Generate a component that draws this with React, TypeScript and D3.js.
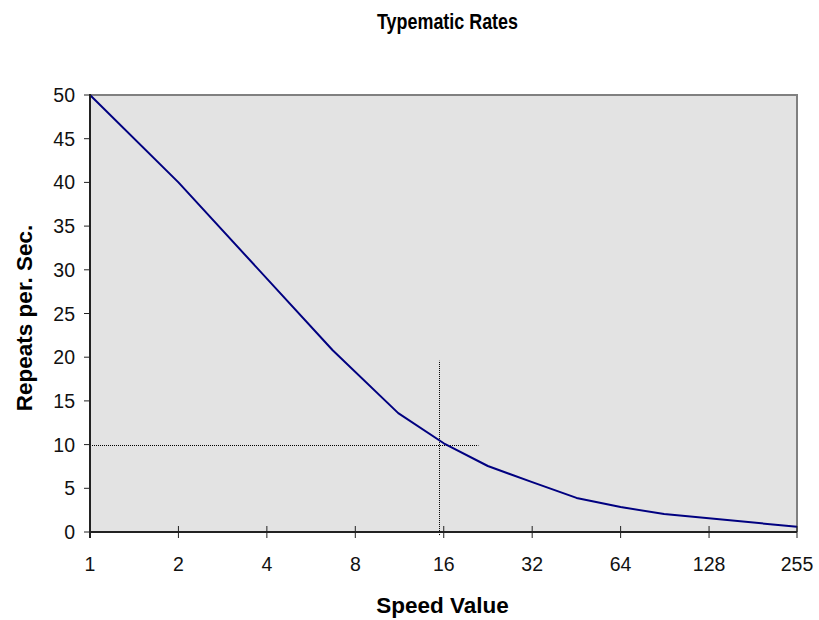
import React, { useEffect, useRef } from "react";
import * as d3 from "d3";

const speedValues = [1, 2, 6.7, 11.2, 16, 22.6, 32, 45.3, 64, 90, 255];
const repeatsPerSec = [50, 40, 20.8, 13.6, 10.15, 7.55, 5.7, 3.9, 2.85, 2.05, 0.6];
const xTicks = [1, 2, 4, 8, 16, 32, 64, 128, 255];
const yTicks = [0, 5, 10, 15, 20, 25, 30, 35, 40, 45, 50];
const refHorizontal = { x1: 1, x2: 21, y: 10 };
const refVertical = { x: 15.4, y1: -0.35, y2: 19.6 };

const W = 819;
const H = 620;
const M = { left: 90, right: 797, top: 95, bottom: 532 };

export default function App() {
  const ref = useRef<SVGSVGElement | null>(null);

  useEffect(() => {
    const svg = d3.select(ref.current);
    svg.selectAll("*").remove();
    const font = "Arial, 'Liberation Sans', sans-serif";

    const x = d3.scaleLog().base(2).domain([1, 255]).range([M.left, M.right]);
    const y = d3.scaleLinear().domain([0, 50]).range([M.bottom, M.top]);

    svg.append("rect")
      .attr("x", M.left).attr("y", M.top)
      .attr("width", M.right - M.left).attr("height", M.bottom - M.top)
      .attr("fill", "#e3e3e3");

    svg.append("path")
      .attr("d", `M${M.left},${M.top}H${M.right}V${M.bottom}`)
      .attr("fill", "none").attr("stroke", "#808080").attr("stroke-width", 2);

    svg.append("line")
      .attr("x1", x(refHorizontal.x1)).attr("x2", x(refHorizontal.x2))
      .attr("y1", Math.round(y(refHorizontal.y)) + 0.5).attr("y2", Math.round(y(refHorizontal.y)) + 0.5)
      .attr("stroke", "#000").attr("stroke-width", 1).attr("stroke-dasharray", "1,1");
    svg.append("line")
      .attr("x1", Math.round(x(refVertical.x)) + 0.5).attr("x2", Math.round(x(refVertical.x)) + 0.5)
      .attr("y1", y(refVertical.y1)).attr("y2", y(refVertical.y2))
      .attr("stroke", "#000").attr("stroke-width", 1).attr("stroke-dasharray", "1,1");

    const pts = speedValues.map((s, i) => [s, repeatsPerSec[i]] as [number, number]);
    const line = d3.line<[number, number]>().x(d => x(d[0])).y(d => y(d[1]));
    svg.append("path")
      .attr("d", line(pts) as string)
      .attr("fill", "none").attr("stroke", "#000080").attr("stroke-width", 2)
      .attr("stroke-linejoin", "round");

    const gy = svg.append("g");
    gy.append("line")
      .attr("x1", M.left).attr("x2", M.left).attr("y1", M.top - 1).attr("y2", M.bottom + 6)
      .attr("stroke", "#222").attr("stroke-width", 2);
    yTicks.forEach(t => {
      gy.append("line")
        .attr("x1", M.left - 6).attr("x2", M.left).attr("y1", y(t)).attr("y2", y(t))
        .attr("stroke", "#222").attr("stroke-width", 1);
      gy.append("text")
        .attr("x", 75).attr("y", y(t)).attr("dy", "0.36em")
        .attr("text-anchor", "end").attr("font-family", font).attr("font-size", 19.5)
        .attr("fill", "#111").text(String(t));
    });

    const gx = svg.append("g");
    gx.append("line")
      .attr("x1", M.left).attr("x2", M.right).attr("y1", M.bottom).attr("y2", M.bottom)
      .attr("stroke", "#222").attr("stroke-width", 2);
    xTicks.forEach(t => {
      gx.append("line")
        .attr("x1", x(t)).attr("x2", x(t)).attr("y1", M.bottom - 6).attr("y2", M.bottom + 6)
        .attr("stroke", "#222").attr("stroke-width", 1);
      gx.append("text")
        .attr("x", x(t)).attr("y", 571)
        .attr("text-anchor", "middle").attr("font-family", font).attr("font-size", 19.5)
        .attr("fill", "#111").text(String(t));
    });

    svg.append("text")
      .attr("x", 447.5).attr("y", 29).attr("text-anchor", "middle")
      .attr("font-family", font).attr("font-weight", "bold").attr("font-size", 22)
      .attr("textLength", 141).attr("lengthAdjust", "spacingAndGlyphs")
      .attr("fill", "#000").text("Typematic Rates");
    svg.append("text")
      .attr("x", 442.5).attr("y", 613).attr("text-anchor", "middle")
      .attr("font-family", font).attr("font-weight", "bold").attr("font-size", 22.5)
      .attr("fill", "#000").text("Speed Value");
    svg.append("text")
      .attr("transform", "translate(32,318) rotate(-90)").attr("text-anchor", "middle")
      .attr("font-family", font).attr("font-weight", "bold").attr("font-size", 22.5)
      .attr("fill", "#000").text("Repeats per. Sec.");
  }, []);

  return (
    <div style={{ position: "absolute", left: 0, top: 0, width: W, height: H, background: "#fff" }}>
      <svg ref={ref} width={W} height={H} style={{ display: "block" }} />
    </div>
  );
}
